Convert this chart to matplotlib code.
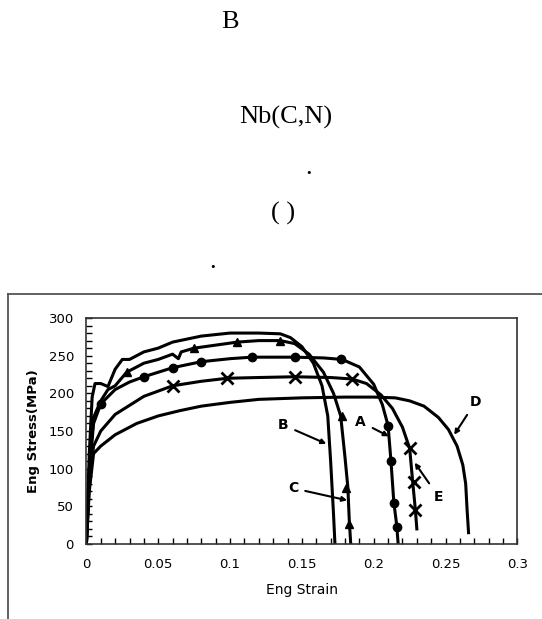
import matplotlib.pyplot as plt
from matplotlib.lines import Line2D
from matplotlib.ticker import MultipleLocator

# curve data (strain, stress MPa)
strain_b = [0, 0.002, 0.004, 0.006, 0.01, 0.015, 0.02, 0.025, 0.03, 0.04, 0.05, 0.06, 0.08, 0.1, 0.12, 0.135, 0.142, 0.15, 0.158, 0.164, 0.168, 0.17, 0.172, 0.173]
stress_b = [0, 120, 195, 213, 213, 209, 232, 245, 245, 255, 260, 268, 276, 280, 280, 279, 274, 262, 240, 210, 170, 110, 40, 0]

strain_c = [0, 0.002, 0.005, 0.01, 0.015, 0.02, 0.028, 0.04, 0.05, 0.06, 0.064, 0.066, 0.075, 0.09, 0.105, 0.12, 0.135, 0.145, 0.155, 0.165, 0.172, 0.177, 0.18, 0.182, 0.183, 0.184]
stress_c = [0, 100, 168, 190, 205, 210, 228, 240, 245, 252, 246, 255, 260, 264, 268, 270, 270, 266, 252, 228, 200, 170, 115, 75, 30, 0]
marks_c_x = [0.028, 0.075, 0.105, 0.135, 0.178, 0.181, 0.183]
marks_c_y = [228, 260, 268, 270, 170, 75, 27]

strain_a = [0, 0.002, 0.005, 0.01, 0.02, 0.03, 0.04, 0.06, 0.08, 0.1, 0.115, 0.145, 0.165, 0.178, 0.19, 0.2, 0.206, 0.21, 0.212, 0.214, 0.216, 0.217]
stress_a = [0, 95, 160, 186, 205, 215, 222, 234, 242, 246, 248, 248, 247, 245, 235, 212, 185, 157, 110, 55, 25, 0]
marks_a_x = [0.01, 0.04, 0.06, 0.08, 0.115, 0.145, 0.177, 0.21, 0.212, 0.214, 0.216]
marks_a_y = [186, 222, 234, 242, 248, 248, 245, 157, 110, 55, 23]

strain_e = [0, 0.002, 0.005, 0.01, 0.02, 0.04, 0.06, 0.08, 0.098, 0.12, 0.145, 0.17, 0.185, 0.195, 0.205, 0.213, 0.22, 0.225, 0.227, 0.229, 0.23]
stress_e = [0, 80, 130, 150, 172, 196, 210, 216, 220, 221, 222, 221, 219, 213, 198, 180, 155, 127, 85, 45, 20]
marks_e_x = [0.06, 0.098, 0.145, 0.185, 0.225, 0.228, 0.229]
marks_e_y = [210, 220, 222, 219, 127, 82, 45]

strain_d = [0, 0.002, 0.005, 0.01, 0.02, 0.035, 0.05, 0.065, 0.08, 0.1, 0.12, 0.15, 0.18, 0.2, 0.215, 0.225, 0.235, 0.245, 0.252, 0.258, 0.262, 0.264, 0.265, 0.266]
stress_d = [0, 70, 120, 130, 145, 160, 170, 177, 183, 188, 192, 194, 195, 195, 194, 190, 183, 168, 152, 130, 105, 80, 45, 15]

labels = ['B', 'C', 'A', 'D', 'E']
label_pos = [(0.137, 158), (0.144, 74), (0.191, 162), (0.271, 189), (0.245, 63)]
arrow_tip = [(0.167, 133), (0.1815, 58), (0.2105, 143), (0.256, 145), (0.2285, 108)]

fig = plt.figure(figsize=(5.42, 6.19), dpi=100)

# header text of the page (glyphs that survived)
serif = ['Liberation Serif', 'DejaVu Serif']
fig.text(230 / 542, 1 - 22 / 619, 'B', family=serif, fontsize=19, ha='center', va='center')
fig.text(286 / 542, 1 - 117 / 619, 'Nb(C,N)', family=serif, fontsize=19, ha='center', va='center')
fig.text(309 / 542, 1 - 174 / 619, '.', family=serif, fontsize=19, ha='center', va='baseline')
fig.text(283 / 542, 1 - 213 / 619, '( )', family=serif, fontsize=19, ha='center', va='center')
fig.text(213 / 542, 1 - 268 / 619, '.', family=serif, fontsize=19, ha='center', va='baseline')

# outer frame around the chart (cut by the page edges)
fig.add_artist(Line2D([8 / 542, 1.0], [1 - 294 / 619, 1 - 294 / 619], color='#555555', lw=1.3))
fig.add_artist(Line2D([8 / 542, 8 / 542], [1 - 294 / 619, 0.0], color='#555555', lw=1.3))

ax = fig.add_axes([86.4 / 542, 1 - 544 / 619, 431 / 542, 226 / 619])

lw = 2.2
ax.plot(strain_b, stress_b, color='black', lw=lw)
ax.plot(strain_c, stress_c, color='black', lw=lw)
ax.plot(marks_c_x, marks_c_y, ls='none', marker='^', color='black', ms=6)
ax.plot(strain_a, stress_a, color='black', lw=lw)
ax.plot(marks_a_x, marks_a_y, ls='none', marker='o', color='black', ms=6)
ax.plot(strain_e, stress_e, color='black', lw=lw)
ax.plot(marks_e_x, marks_e_y, ls='none', marker='x', color='black', ms=8, mew=2)
ax.plot(strain_d, stress_d, color='black', lw=lw)

for lab, pos, tip in zip(labels, label_pos, arrow_tip):
    ax.annotate(lab, xy=tip, xytext=pos, fontsize=10, fontweight='bold', ha='center', va='center',
                arrowprops=dict(arrowstyle='-|>', color='black', lw=1.5, shrinkA=3, shrinkB=0,
                                mutation_scale=7))

ax.set_xlim(0, 0.3)
ax.set_ylim(0, 300)
ax.xaxis.set_major_locator(MultipleLocator(0.05))
ax.xaxis.set_minor_locator(MultipleLocator(0.01))
ax.yaxis.set_major_locator(MultipleLocator(50))
ax.yaxis.set_minor_locator(MultipleLocator(10))
ax.set_xticks([0, 0.05, 0.1, 0.15, 0.2, 0.25, 0.3], ['0', '0.05', '0.1', '0.15', '0.2', '0.25', '0.3'])
ax.tick_params(which='both', direction='in', length=4, width=1, labelsize=9.5)
ax.tick_params(axis='x', pad=10)
ax.tick_params(axis='y', pad=9)
for s in ax.spines.values():
    s.set_color('#333333')
    s.set_linewidth(1.2)

ax.set_xlabel('Eng Strain', fontsize=10, labelpad=9)
ax.set_ylabel('Eng Stress(MPa)', fontsize=9.5, fontweight='bold', labelpad=6)

fig.savefig('out.png', dpi=100)
